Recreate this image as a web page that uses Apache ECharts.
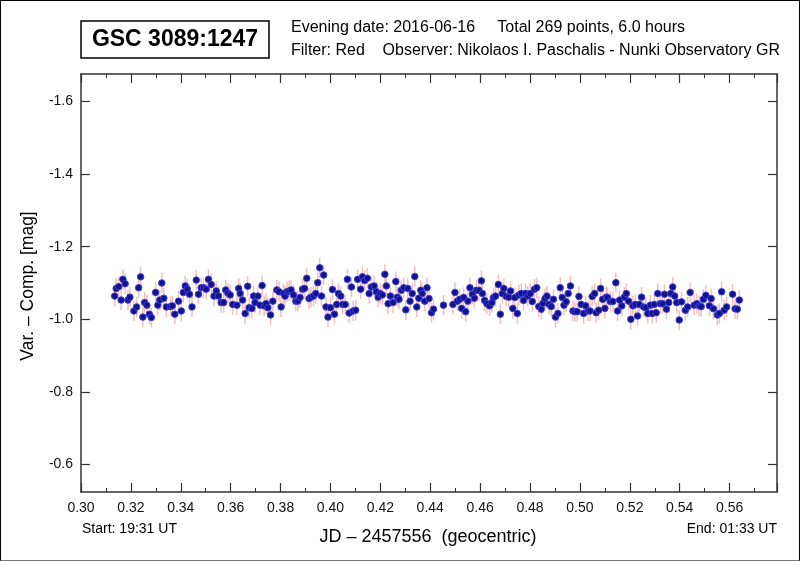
<!DOCTYPE html>
<html>
<head>
<meta charset="utf-8">
<script src="https://cdn.jsdelivr.net/npm/echarts@6/dist/echarts.min.js"></script>
<style>
html,body{margin:0;padding:0;background:#fff;}
#c{width:800px;height:561px;box-sizing:border-box;border:1px solid #000;border-bottom-color:#777;}
</style>
</head>
<body>
<div id="c"></div>
<script>
// JD - 2457556 (geocentric)
const jd = [
0.3135,0.3141,0.3151,0.3161,0.3168,0.3177,0.3188,0.3196,0.3212,0.3223,0.3231,0.3239,0.3248,0.3255,0.3264,0.3274,0.3282,0.3299,0.3308,0.3316,
0.3324,0.3332,0.3342,0.3359,0.3366,0.3376,0.3391,0.3402,0.3410,0.3418,0.3426,0.3435,0.3445,0.3462,0.3471,0.3482,0.3491,0.3502,0.3511,0.3522,
0.3533,0.3542,0.3551,0.3562,0.3572,0.3580,0.3589,0.3598,0.3608,0.3625,0.3632,0.3638,0.3648,0.3658,0.3668,0.3674,0.3685,0.3692,0.3698,0.3709,
0.3718,0.3726,0.3734,0.3742,0.3749,0.3760,0.3769,0.3785,0.3794,0.3802,0.3812,0.3818,0.3826,0.3834,0.3842,0.3852,0.3861,0.3869,0.3878,0.3888,
0.3896,0.3905,0.3914,0.3922,0.3932,0.3941,0.3949,0.3957,0.3964,0.3973,0.3982,0.3990,0.4000,0.4008,0.4016,0.4025,0.4032,0.4041,0.4049,0.4059,
0.4068,0.4075,0.4084,0.4091,0.4101,0.4109,0.4121,0.4128,0.4137,0.4148,0.4155,0.4164,0.4175,0.4184,0.4191,0.4199,0.4208,0.4218,0.4224,0.4231,
0.4240,0.4251,0.4262,0.4268,0.4275,0.4284,0.4294,0.4302,0.4310,0.4319,0.4328,0.4338,0.4346,0.4354,0.4362,0.4368,0.4378,0.4387,0.4395,0.4405,
0.4413,0.4453,0.4491,0.4499,0.4509,0.4518,0.4526,0.4534,0.4542,0.4551,0.4559,0.4569,0.4577,0.4585,0.4595,0.4605,0.4609,0.4618,0.4627,0.4638,
0.4647,0.4654,0.4662,0.4673,0.4681,0.4689,0.4695,0.4705,0.4715,0.4722,0.4731,0.4739,0.4749,0.4755,0.4765,0.4774,0.4782,0.4791,0.4801,0.4809,
0.4818,0.4827,0.4835,0.4845,0.4852,0.4860,0.4868,0.4876,0.4885,0.4894,0.4902,0.4912,0.4921,0.4929,0.4936,0.4945,0.4953,0.4962,0.4972,0.4980,
0.4989,0.4996,0.5005,0.5015,0.5023,0.5032,0.5041,0.5049,0.5059,0.5065,0.5075,0.5083,0.5091,0.5100,0.5106,0.5111,0.5122,0.5132,0.5144,0.5151,
0.5159,0.5168,0.5178,0.5186,0.5195,0.5204,0.5212,0.5222,0.5231,0.5238,0.5247,0.5255,0.5264,0.5272,0.5282,0.5290,0.5298,0.5306,0.5312,0.5322,
0.5331,0.5339,0.5347,0.5356,0.5364,0.5372,0.5380,0.5388,0.5398,0.5407,0.5423,0.5432,0.5442,0.5458,0.5469,0.5478,0.5486,0.5495,0.5505,0.5519,
0.5526,0.5535,0.5551,0.5559,0.5568,0.5578,0.5588,0.5612,0.5622,0.5631,0.5639
];
// Var - Comp [mag]
const mag = [
-1.064,-1.085,-1.090,-1.053,-1.110,-1.098,-1.053,-1.061,-1.023,-1.034,-1.087,-1.117,-1.006,-1.046,-1.039,-1.014,-1.005,-1.074,-1.039,-1.053,
-1.100,-1.058,-1.034,-1.035,-1.037,-1.014,-1.050,-1.023,-1.074,-1.092,-1.083,-1.069,-1.034,-1.108,-1.069,-1.087,-1.087,-1.083,-1.110,-1.096,
-1.064,-1.078,-1.064,-1.046,-1.046,-1.081,-1.072,-1.067,-1.041,-1.039,-1.085,-1.071,-1.053,-1.016,-1.091,-1.032,-1.030,-1.064,-1.046,-1.064,
-1.039,-1.093,-1.037,-1.043,-1.032,-1.012,-1.050,-1.081,-1.076,-1.034,-1.071,-1.064,-1.076,-1.078,-1.081,-1.067,-1.050,-1.050,-1.060,-1.083,
-1.085,-1.113,-1.057,-1.061,-1.064,-1.071,-1.101,-1.142,-1.064,-1.122,-1.034,-1.006,-1.032,-1.082,-1.014,-1.041,-1.071,-1.064,-1.041,-1.041,
-1.110,-1.017,-1.089,-1.023,-1.025,-1.110,-1.083,-1.117,-1.107,-1.113,-1.071,-1.089,-1.092,-1.076,-1.061,-1.071,-1.067,-1.124,-1.092,-1.043,
-1.064,-1.046,-1.104,-1.061,-1.055,-1.080,-1.087,-1.026,-1.085,-1.050,-1.071,-1.118,-1.034,-1.058,-1.080,-1.071,-1.050,-1.087,-1.057,-1.018,
-1.028,-1.039,-1.041,-1.074,-1.050,-1.055,-1.030,-1.060,-1.021,-1.050,-1.087,-1.069,-1.058,-1.080,-1.080,-1.106,-1.071,-1.052,-1.043,-1.037,
-1.046,-1.060,-1.064,-1.096,-1.014,-1.071,-1.085,-1.063,-1.061,-1.078,-1.030,-1.060,-1.016,-1.067,-1.071,-1.052,-1.071,-1.064,-1.071,-1.049,
-1.083,-1.087,-1.035,-1.028,-1.044,-1.057,-1.064,-1.041,-1.035,-1.055,-1.006,-1.016,-1.087,-1.060,-1.039,-1.048,-1.071,-1.092,-1.023,-1.021,
-1.021,-1.063,-1.041,-1.016,-1.037,-1.023,-1.023,-1.063,-1.071,-1.018,-1.025,-1.085,-1.055,-1.030,-1.061,-1.060,-1.049,-1.049,-1.101,-1.023,
-1.053,-1.037,-1.061,-1.071,-1.050,-1.000,-1.037,-1.041,-1.009,-1.041,-1.061,-1.034,-1.032,-1.016,-1.039,-1.016,-1.041,-1.018,-1.071,-1.043,
-1.043,-1.069,-1.028,-1.046,-1.071,-1.089,-1.064,-1.046,-0.998,-1.048,-1.025,-1.034,-1.074,-1.039,-1.043,-1.037,-1.035,-1.055,-1.066,-1.037,
-1.057,-1.029,-1.012,-1.016,-1.076,-1.025,-1.034,-1.069,-1.029,-1.028,-1.053
];
const ERR = 0.028;
const yTicks = [-1.6,-1.4,-1.2,-1.0,-0.8,-0.6];
const titleText = 'GSC 3089:1247';
const infoLine1 = 'Evening date: 2016-06-16     Total 269 points, 6.0 hours';
const infoLine2 = 'Filter: Red    Observer: Nikolaos I. Paschalis - Nunki Observatory GR';
const startText = 'Start: 19:31 UT';
const endText = 'End: 01:33 UT';
const xName = 'JD \u2013 2457556  (geocentric)';
const yName = 'Var. \u2013 Comp. [mag]';

const pts = jd.map((x, i) => [x, mag[i]]);
const F = '"Liberation Sans", Arial, sans-serif';
const axisCol = '#333';

const chart = echarts.init(document.getElementById('c'), null, {renderer: 'canvas'});
const xCommon = {
  type: 'value', min: 0.30, max: 0.579, interval: 0.02,
  axisLine: {show: true, onZero: false, lineStyle: {color: axisCol, width: 1.5}},
  axisTick: {show: true, inside: true, length: 9, lineStyle: {color: axisCol, width: 1.2}},
  minorTick: {show: true, splitNumber: 2, length: 4, lineStyle: {color: axisCol, width: 1}},
  splitLine: {show: false}, minorSplitLine: {show: false}
};
const yCommon = {
  type: 'value', inverse: true, min: -1.676, max: -0.524,
  axisLine: {show: true, onZero: false, lineStyle: {color: axisCol, width: 1.5}},
  axisTick: {show: true, inside: true, length: 9, customValues: yTicks, lineStyle: {color: axisCol, width: 1.2}},
  splitLine: {show: false}
};
chart.setOption({
  animation: false,
  grid: {left: 80, top: 73, right: 22, bottom: 68},
  xAxis: [
    Object.assign({}, xCommon, {position: 'bottom',
      axisLabel: {show: true, margin: 9, showMaxLabel: false, fontFamily: F, fontSize: 14, color: '#111', formatter: v => v.toFixed(2)}}),
    Object.assign({}, xCommon, {position: 'top', axisLabel: {show: false}})
  ],
  yAxis: [
    Object.assign({}, yCommon, {position: 'left',
      axisLabel: {show: true, margin: 8, customValues: yTicks, fontFamily: F, fontSize: 14, color: '#111', formatter: v => v.toFixed(1)}}),
    Object.assign({}, yCommon, {position: 'right', axisLabel: {show: false}})
  ],
  series: [
    {
      type: 'custom', xAxisIndex: 0, yAxisIndex: 0, z: 1, silent: true,
      data: pts,
      renderItem: function (params, api) {
        const x = api.value(0), y = api.value(1);
        const a = api.coord([x, y - ERR]);
        const b = api.coord([x, y + ERR]);
        return {type: 'line', shape: {x1: a[0], y1: a[1], x2: b[0], y2: b[1]},
          style: {stroke: 'rgba(226,140,140,0.55)', lineWidth: 1.5}};
      }
    },
    {
      type: 'scatter', xAxisIndex: 0, yAxisIndex: 0, z: 3,
      data: pts, symbol: 'circle', symbolSize: 6.5,
      itemStyle: {color: '#12128a', borderColor: '#3c3cd8', borderWidth: 1, opacity: 1}
    }
  ],
  graphic: [
    {type: 'rect', shape: {x: 80, y: 20, width: 188, height: 37},
      style: {fill: '#fff', stroke: '#000', lineWidth: 1.5}},
    {type: 'text', x: 174, y: 39, style: {text: titleText, font: 'bold 23px ' + F, fill: '#000', align: 'center', verticalAlign: 'middle'}},
    {type: 'text', x: 290, y: 27, style: {text: infoLine1, font: '16px ' + F, fill: '#000', align: 'left', verticalAlign: 'middle'}},
    {type: 'text', x: 290, y: 50, style: {text: infoLine2, font: '16px ' + F, fill: '#000', align: 'left', verticalAlign: 'middle'}},
    {type: 'text', x: 81, y: 528, style: {text: startText, font: '14px ' + F, fill: '#000', align: 'left', verticalAlign: 'middle'}},
    {type: 'text', x: 776, y: 528, style: {text: endText, font: '14px ' + F, fill: '#000', align: 'right', verticalAlign: 'middle'}},
    {type: 'text', x: 427, y: 536, style: {text: xName, font: '18px ' + F, fill: '#000', align: 'center', verticalAlign: 'middle'}},
    {type: 'text', x: 27, y: 285, rotation: Math.PI / 2, style: {text: yName, font: '17.5px ' + F, fill: '#000', align: 'center', verticalAlign: 'middle'}}
  ]
});
</script>
</body>
</html>
